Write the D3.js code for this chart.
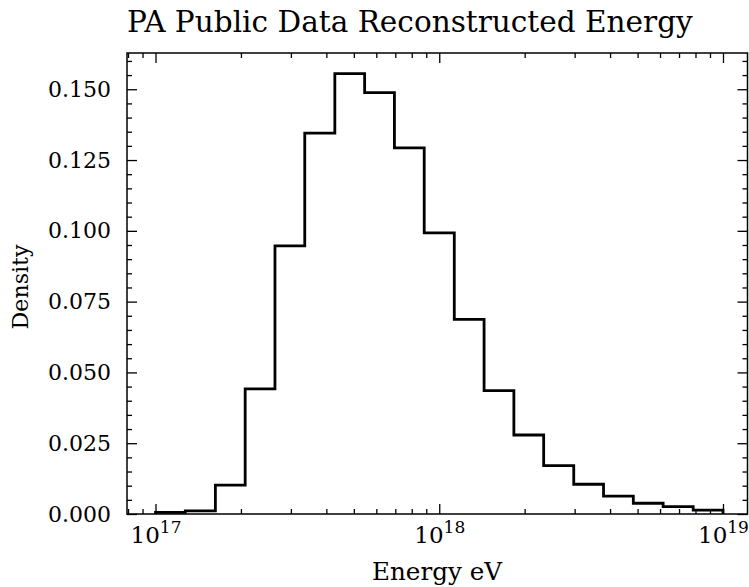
<!DOCTYPE html>
<html>
<head>
	<title>PA Public Data Reconstructed Energy</title>
	<script src="https://d3js.org/d3.v7.min.js"></script>
	<style>
	body { margin: 0; background: white; }
	svg text { font-family: "DejaVu Serif", serif; fill: black; }
	</style>
</head>
<body>
</body>
<script type="text/javascript">

// bin edges as log10(E / eV), 19 bins from 1e17 to 1e19
const binEdgeExp = [17.0, 17.105, 17.211, 17.316, 17.421, 17.526, 17.632, 17.737, 17.842, 17.947,
	18.053, 18.158, 18.263, 18.368, 18.474, 18.579, 18.684, 18.789, 18.895, 19.0]

// density per bin
const density = [0.0006, 0.0011, 0.0102, 0.0442, 0.0947, 0.1345, 0.1555, 0.1488, 0.1293, 0.0993,
	0.0687, 0.0436, 0.0279, 0.0171, 0.0105, 0.0063, 0.0038, 0.0026, 0.0014]

const xMajorTicks = [1e17, 1e18, 1e19]
const yMajorTicks = [0, 0.025, 0.05, 0.075, 0.1, 0.125, 0.15]

const title = "PA Public Data Reconstructed Energy"
const xLabel = "Energy eV"
const yLabel = "Density"

// set svg
const width = 749
const height = 587
const margin = {left: 127, right: 1.5, top: 53, bottom: 73}

const svg = d3.select("body").append("svg")
	.attr("width", width)
	.attr("height", height)

const x = d3.scaleLog()
	.domain([Math.pow(10, 16.8995), Math.pow(10, 19.0864)])
	.range([margin.left, width - margin.right])

const y = d3.scaleLinear()
	.domain([0, 0.1628])
	.range([height - margin.bottom, margin.top])

const x0 = x.range()[0], x1 = x.range()[1]
const y0 = y.range()[0], y1 = y.range()[1]

// minor ticks
const xMinor = x.ticks().filter(function(d){ return xMajorTicks.indexOf(d) < 0 })
const yMinor = y.ticks(30).filter(function(d){
	return !yMajorTicks.some(function(m){ return Math.abs(m - d) < 1e-9 })
})

function styleAxis(g, size)
{
	g.attr("font-family", "DejaVu Serif").attr("font-size", size || 22)
	g.select(".domain").remove()
	g.selectAll("line").attr("stroke", "black").attr("stroke-width", 1.3)
}

// bottom
svg.append("g").attr("transform", "translate(0," + y0 + ")")
	.call(d3.axisBottom(x).tickValues(xMinor).tickSize(-5).tickFormat(""))
	.call(styleAxis)
const bottom = svg.append("g").attr("transform", "translate(0," + y0 + ")")
	.call(d3.axisBottom(x).tickValues(xMajorTicks).tickSize(-10).tickPadding(13))
	.call(styleAxis, 23)

// superscript exponent labels
bottom.selectAll("text")
	.each(function(d){
		const t = d3.select(this)
		t.text("10")
		t.append("tspan")
			.attr("dy", -10)
			.attr("font-size", 17)
			.text(Math.round(Math.log10(d)))
	})

// top
svg.append("g").attr("transform", "translate(0," + y1 + ")")
	.call(d3.axisTop(x).tickValues(xMinor).tickSize(-5).tickFormat(""))
	.call(styleAxis)
svg.append("g").attr("transform", "translate(0," + y1 + ")")
	.call(d3.axisTop(x).tickValues(xMajorTicks).tickSize(-10).tickFormat(""))
	.call(styleAxis)

// left
svg.append("g").attr("transform", "translate(" + x0 + ",0)")
	.call(d3.axisLeft(y).tickValues(yMinor).tickSize(-5).tickFormat(""))
	.call(styleAxis)
svg.append("g").attr("transform", "translate(" + x0 + ",0)")
	.call(d3.axisLeft(y).tickValues(yMajorTicks).tickSize(-10).tickPadding(16).tickFormat(d3.format(".3f")))
	.call(styleAxis, 22)

// right
svg.append("g").attr("transform", "translate(" + x1 + ",0)")
	.call(d3.axisRight(y).tickValues(yMinor).tickSize(-5).tickFormat(""))
	.call(styleAxis)
svg.append("g").attr("transform", "translate(" + x1 + ",0)")
	.call(d3.axisRight(y).tickValues(yMajorTicks).tickSize(-10).tickFormat(""))
	.call(styleAxis)

// step outline of the histogram
const pts = [[binEdgeExp[0], 0]]
for (i = 0; i < density.length; i ++)
{
	pts.push([binEdgeExp[i], density[i]])
	pts.push([binEdgeExp[i + 1], density[i]])
}
pts.push([binEdgeExp[binEdgeExp.length - 1], 0])

const line = d3.line()
	.x(function(d){ return x(Math.pow(10, d[0])) })
	.y(function(d){ return y(d[1]) })

svg.append("path")
	.attr("d", line(pts))
	.attr("fill", "none")
	.attr("stroke", "black")
	.attr("stroke-width", 2.8)
	.attr("stroke-linejoin", "miter")

// frame
svg.append("rect")
	.attr("x", x0)
	.attr("y", y1)
	.attr("width", x1 - x0)
	.attr("height", y0 - y1)
	.attr("fill", "none")
	.attr("stroke", "black")
	.attr("stroke-width", 1.5)

// texts, sized to the widths seen in the picture
function fitText(sel, target)
{
	const w = sel.node().getComputedTextLength()
	sel.attr("font-size", parseFloat(sel.attr("font-size")) * target / w)
}

const titleText = svg.append("text")
	.attr("x", x0)
	.attr("y", 32)
	.attr("font-size", 26)
	.text(title)
fitText(titleText, 566)

const xText = svg.append("text")
	.attr("x", 437)
	.attr("y", 580)
	.attr("text-anchor", "middle")
	.attr("font-size", 24)
	.text(xLabel)
fitText(xText, 130)

const yText = svg.append("text")
	.attr("transform", "translate(28,287) rotate(-90)")
	.attr("text-anchor", "middle")
	.attr("font-size", 24)
	.text(yLabel)
fitText(yText, 85)

</script>
</html>
